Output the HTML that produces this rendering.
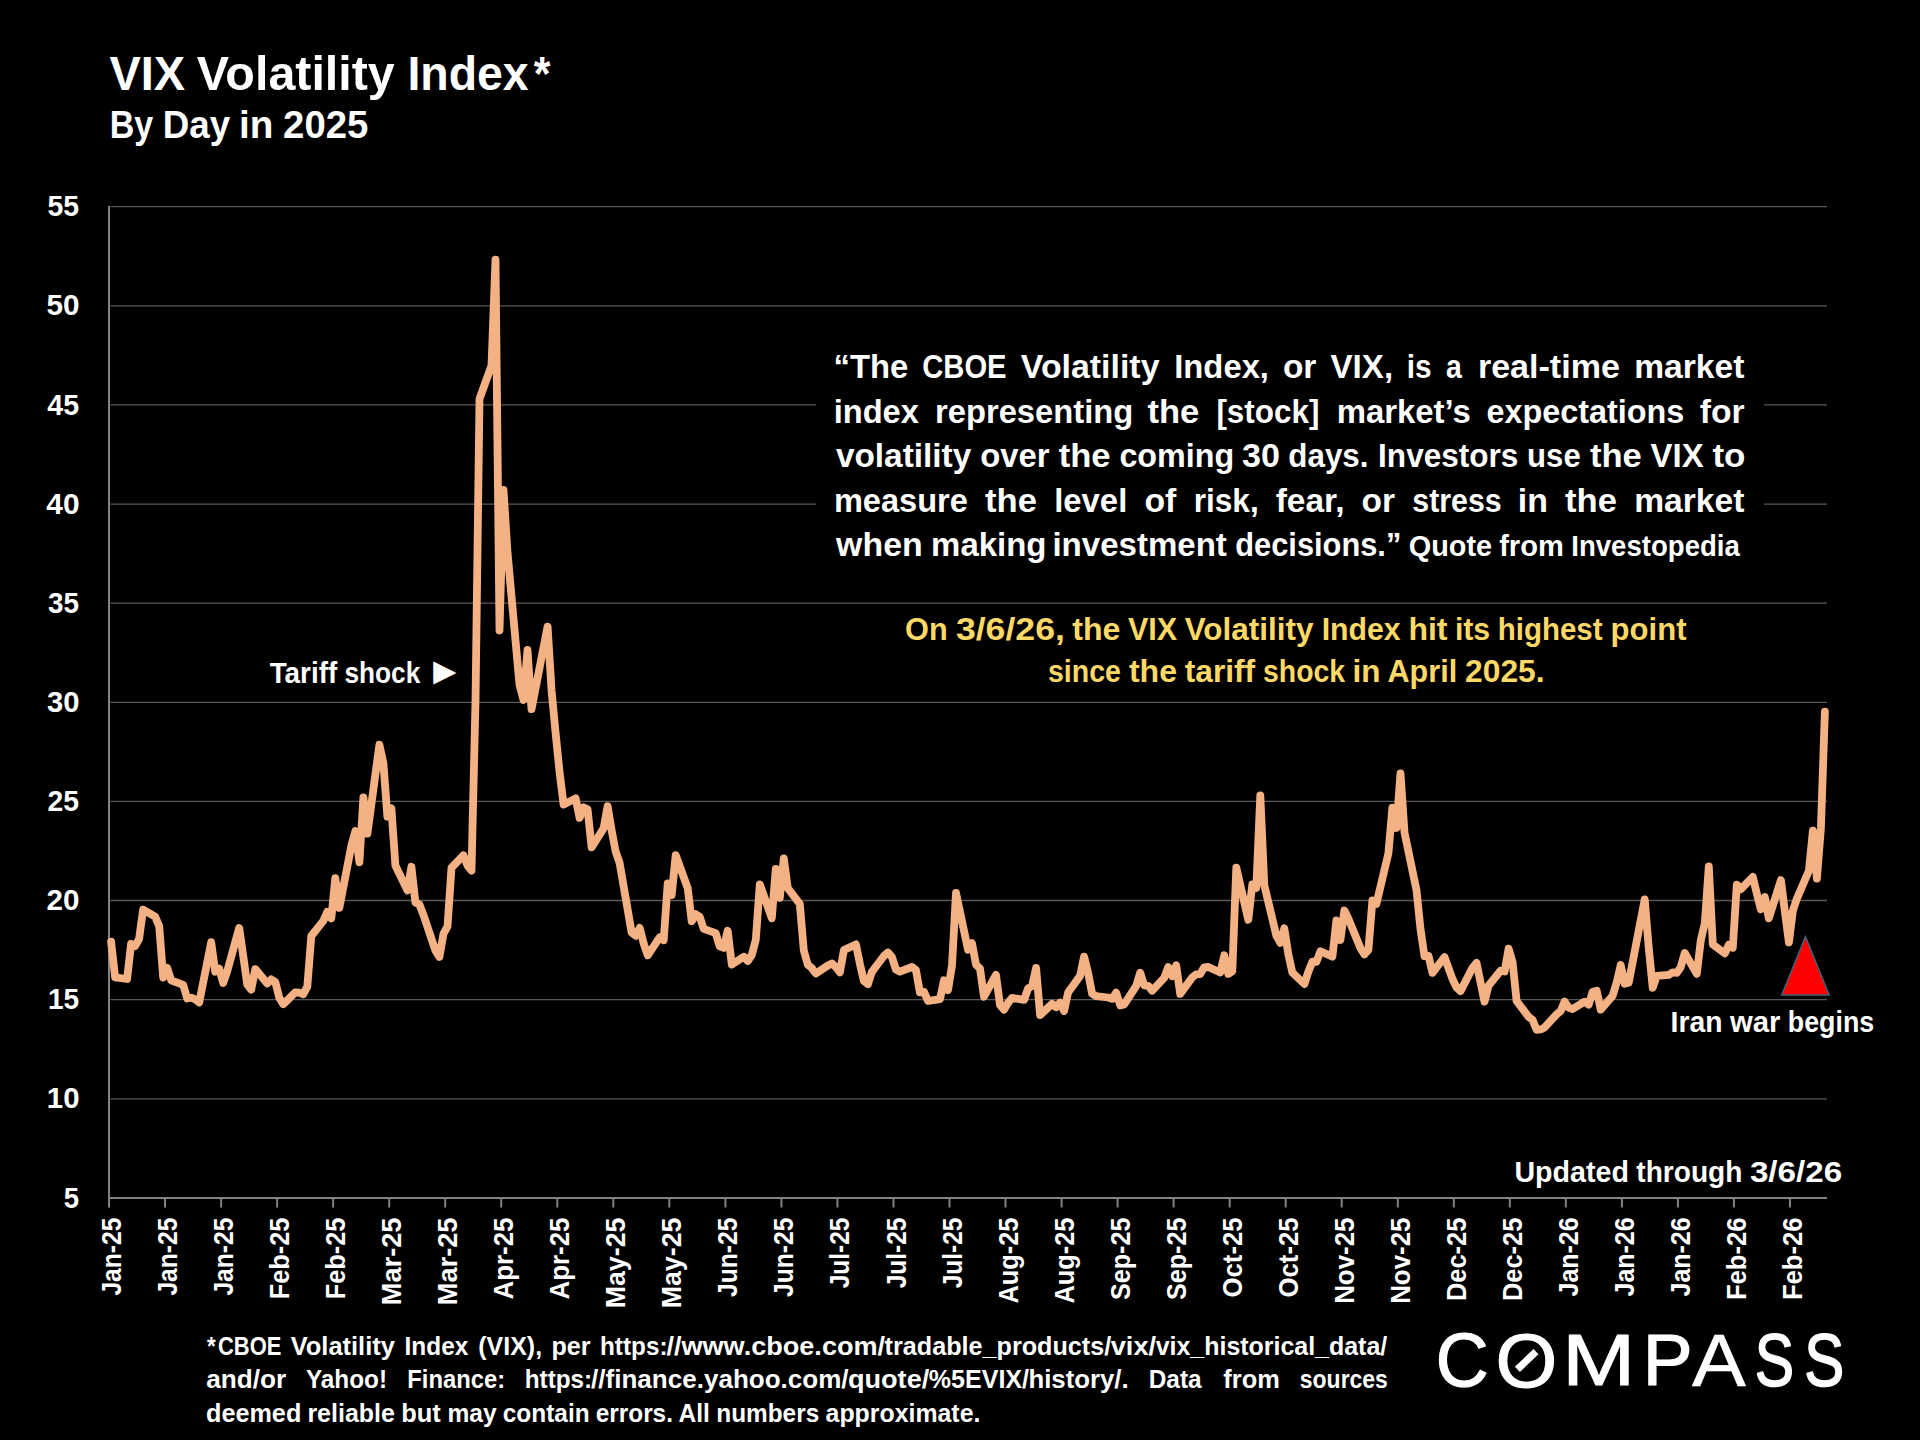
<!DOCTYPE html>
<html lang="en"><head><meta charset="utf-8"><title>VIX Volatility Index</title>
<style>
html,body{margin:0;padding:0;background:#000;}
body{width:1920px;height:1440px;overflow:hidden;position:relative;}
svg{position:absolute;left:0;top:0;display:block;}
</style></head><body>
<svg width="1920" height="1440" viewBox="0 0 1920 1440" font-family="'Liberation Sans', sans-serif" font-weight="bold" fill="#fff">
<rect width="1920" height="1440" fill="#000"/>
<line x1="110.5" y1="206.7" x2="1827.0" y2="206.7" stroke="#595959" stroke-width="1.33"/>
<line x1="110.5" y1="305.8" x2="1827.0" y2="305.8" stroke="#595959" stroke-width="1.33"/>
<line x1="110.5" y1="404.9" x2="1827.0" y2="404.9" stroke="#595959" stroke-width="1.33"/>
<line x1="110.5" y1="504.1" x2="1827.0" y2="504.1" stroke="#595959" stroke-width="1.33"/>
<line x1="110.5" y1="603.2" x2="1827.0" y2="603.2" stroke="#595959" stroke-width="1.33"/>
<line x1="110.5" y1="702.3" x2="1827.0" y2="702.3" stroke="#595959" stroke-width="1.33"/>
<line x1="110.5" y1="801.4" x2="1827.0" y2="801.4" stroke="#595959" stroke-width="1.33"/>
<line x1="110.5" y1="900.5" x2="1827.0" y2="900.5" stroke="#595959" stroke-width="1.33"/>
<line x1="110.5" y1="999.7" x2="1827.0" y2="999.7" stroke="#595959" stroke-width="1.33"/>
<line x1="110.5" y1="1098.8" x2="1827.0" y2="1098.8" stroke="#595959" stroke-width="1.33"/>
<rect x="816" y="309" width="948" height="292" fill="#000"/>
<line x1="109" y1="205.9" x2="109" y2="1207.5" stroke="#828282" stroke-width="2"/>
<line x1="108" y1="1198.0" x2="1827.0" y2="1198.0" stroke="#828282" stroke-width="2"/>
<text transform="translate(121.0,1218.3) rotate(-90)" x="-77.3" font-size="27.13" textLength="78.0" lengthAdjust="spacingAndGlyphs">Jan-25</text>
<line x1="165.0" y1="1198.0" x2="165.0" y2="1207.5" stroke="#828282" stroke-width="2"/>
<text transform="translate(177.0,1218.3) rotate(-90)" x="-77.3" font-size="27.13" textLength="78.0" lengthAdjust="spacingAndGlyphs">Jan-25</text>
<line x1="221.1" y1="1198.0" x2="221.1" y2="1207.5" stroke="#828282" stroke-width="2"/>
<text transform="translate(233.1,1218.3) rotate(-90)" x="-77.3" font-size="27.13" textLength="78.0" lengthAdjust="spacingAndGlyphs">Jan-25</text>
<line x1="277.1" y1="1198.0" x2="277.1" y2="1207.5" stroke="#828282" stroke-width="2"/>
<text transform="translate(289.1,1218.3) rotate(-90)" x="-80.9" font-size="27.13" textLength="81.6" lengthAdjust="spacingAndGlyphs">Feb-25</text>
<line x1="333.1" y1="1198.0" x2="333.1" y2="1207.5" stroke="#828282" stroke-width="2"/>
<text transform="translate(345.1,1218.3) rotate(-90)" x="-80.9" font-size="27.13" textLength="81.6" lengthAdjust="spacingAndGlyphs">Feb-25</text>
<line x1="389.2" y1="1198.0" x2="389.2" y2="1207.5" stroke="#828282" stroke-width="2"/>
<text transform="translate(401.2,1218.3) rotate(-90)" x="-87.0" font-size="27.13" textLength="87.8" lengthAdjust="spacingAndGlyphs">Mar-25</text>
<line x1="445.2" y1="1198.0" x2="445.2" y2="1207.5" stroke="#828282" stroke-width="2"/>
<text transform="translate(457.2,1218.3) rotate(-90)" x="-87.0" font-size="27.13" textLength="87.8" lengthAdjust="spacingAndGlyphs">Mar-25</text>
<line x1="501.2" y1="1198.0" x2="501.2" y2="1207.5" stroke="#828282" stroke-width="2"/>
<text transform="translate(513.2,1218.3) rotate(-90)" x="-81.2" font-size="27.13" textLength="81.9" lengthAdjust="spacingAndGlyphs">Apr-25</text>
<line x1="557.3" y1="1198.0" x2="557.3" y2="1207.5" stroke="#828282" stroke-width="2"/>
<text transform="translate(569.3,1218.3) rotate(-90)" x="-81.2" font-size="27.13" textLength="81.9" lengthAdjust="spacingAndGlyphs">Apr-25</text>
<line x1="613.3" y1="1198.0" x2="613.3" y2="1207.5" stroke="#828282" stroke-width="2"/>
<text transform="translate(625.3,1218.3) rotate(-90)" x="-90.0" font-size="27.13" textLength="90.7" lengthAdjust="spacingAndGlyphs">May-25</text>
<line x1="669.3" y1="1198.0" x2="669.3" y2="1207.5" stroke="#828282" stroke-width="2"/>
<text transform="translate(681.3,1218.3) rotate(-90)" x="-90.0" font-size="27.13" textLength="90.7" lengthAdjust="spacingAndGlyphs">May-25</text>
<line x1="725.4" y1="1198.0" x2="725.4" y2="1207.5" stroke="#828282" stroke-width="2"/>
<text transform="translate(737.4,1218.3) rotate(-90)" x="-78.6" font-size="27.13" textLength="79.3" lengthAdjust="spacingAndGlyphs">Jun-25</text>
<line x1="781.4" y1="1198.0" x2="781.4" y2="1207.5" stroke="#828282" stroke-width="2"/>
<text transform="translate(793.4,1218.3) rotate(-90)" x="-78.6" font-size="27.13" textLength="79.3" lengthAdjust="spacingAndGlyphs">Jun-25</text>
<line x1="837.4" y1="1198.0" x2="837.4" y2="1207.5" stroke="#828282" stroke-width="2"/>
<text transform="translate(849.4,1218.3) rotate(-90)" x="-70.0" font-size="27.13" textLength="70.7" lengthAdjust="spacingAndGlyphs">Jul-25</text>
<line x1="893.5" y1="1198.0" x2="893.5" y2="1207.5" stroke="#828282" stroke-width="2"/>
<text transform="translate(905.5,1218.3) rotate(-90)" x="-70.0" font-size="27.13" textLength="70.7" lengthAdjust="spacingAndGlyphs">Jul-25</text>
<line x1="949.5" y1="1198.0" x2="949.5" y2="1207.5" stroke="#828282" stroke-width="2"/>
<text transform="translate(961.5,1218.3) rotate(-90)" x="-70.0" font-size="27.13" textLength="70.7" lengthAdjust="spacingAndGlyphs">Jul-25</text>
<line x1="1005.5" y1="1198.0" x2="1005.5" y2="1207.5" stroke="#828282" stroke-width="2"/>
<text transform="translate(1017.5,1218.3) rotate(-90)" x="-85.2" font-size="27.13" textLength="85.9" lengthAdjust="spacingAndGlyphs">Aug-25</text>
<line x1="1061.6" y1="1198.0" x2="1061.6" y2="1207.5" stroke="#828282" stroke-width="2"/>
<text transform="translate(1073.6,1218.3) rotate(-90)" x="-85.2" font-size="27.13" textLength="85.9" lengthAdjust="spacingAndGlyphs">Aug-25</text>
<line x1="1117.6" y1="1198.0" x2="1117.6" y2="1207.5" stroke="#828282" stroke-width="2"/>
<text transform="translate(1129.6,1218.3) rotate(-90)" x="-81.8" font-size="27.13" textLength="82.5" lengthAdjust="spacingAndGlyphs">Sep-25</text>
<line x1="1173.6" y1="1198.0" x2="1173.6" y2="1207.5" stroke="#828282" stroke-width="2"/>
<text transform="translate(1185.6,1218.3) rotate(-90)" x="-81.8" font-size="27.13" textLength="82.5" lengthAdjust="spacingAndGlyphs">Sep-25</text>
<line x1="1229.7" y1="1198.0" x2="1229.7" y2="1207.5" stroke="#828282" stroke-width="2"/>
<text transform="translate(1241.7,1218.3) rotate(-90)" x="-79.1" font-size="27.13" textLength="79.9" lengthAdjust="spacingAndGlyphs">Oct-25</text>
<line x1="1285.7" y1="1198.0" x2="1285.7" y2="1207.5" stroke="#828282" stroke-width="2"/>
<text transform="translate(1297.7,1218.3) rotate(-90)" x="-79.1" font-size="27.13" textLength="79.9" lengthAdjust="spacingAndGlyphs">Oct-25</text>
<line x1="1341.7" y1="1198.0" x2="1341.7" y2="1207.5" stroke="#828282" stroke-width="2"/>
<text transform="translate(1353.7,1218.3) rotate(-90)" x="-85.5" font-size="27.13" textLength="86.2" lengthAdjust="spacingAndGlyphs">Nov-25</text>
<line x1="1397.8" y1="1198.0" x2="1397.8" y2="1207.5" stroke="#828282" stroke-width="2"/>
<text transform="translate(1409.8,1218.3) rotate(-90)" x="-85.5" font-size="27.13" textLength="86.2" lengthAdjust="spacingAndGlyphs">Nov-25</text>
<line x1="1453.8" y1="1198.0" x2="1453.8" y2="1207.5" stroke="#828282" stroke-width="2"/>
<text transform="translate(1465.8,1218.3) rotate(-90)" x="-82.8" font-size="27.13" textLength="83.5" lengthAdjust="spacingAndGlyphs">Dec-25</text>
<line x1="1509.8" y1="1198.0" x2="1509.8" y2="1207.5" stroke="#828282" stroke-width="2"/>
<text transform="translate(1521.8,1218.3) rotate(-90)" x="-82.8" font-size="27.13" textLength="83.5" lengthAdjust="spacingAndGlyphs">Dec-25</text>
<line x1="1565.8" y1="1198.0" x2="1565.8" y2="1207.5" stroke="#828282" stroke-width="2"/>
<text transform="translate(1577.8,1218.3) rotate(-90)" x="-78.2" font-size="27.13" textLength="79.1" lengthAdjust="spacingAndGlyphs">Jan-26</text>
<line x1="1621.9" y1="1198.0" x2="1621.9" y2="1207.5" stroke="#828282" stroke-width="2"/>
<text transform="translate(1633.9,1218.3) rotate(-90)" x="-78.2" font-size="27.13" textLength="79.1" lengthAdjust="spacingAndGlyphs">Jan-26</text>
<line x1="1677.9" y1="1198.0" x2="1677.9" y2="1207.5" stroke="#828282" stroke-width="2"/>
<text transform="translate(1689.9,1218.3) rotate(-90)" x="-78.2" font-size="27.13" textLength="79.1" lengthAdjust="spacingAndGlyphs">Jan-26</text>
<line x1="1733.9" y1="1198.0" x2="1733.9" y2="1207.5" stroke="#828282" stroke-width="2"/>
<text transform="translate(1745.9,1218.3) rotate(-90)" x="-81.8" font-size="27.13" textLength="82.7" lengthAdjust="spacingAndGlyphs">Feb-26</text>
<line x1="1790.0" y1="1198.0" x2="1790.0" y2="1207.5" stroke="#828282" stroke-width="2"/>
<text transform="translate(1802.0,1218.3) rotate(-90)" x="-81.8" font-size="27.13" textLength="82.7" lengthAdjust="spacingAndGlyphs">Feb-26</text>
<text y="216.3" font-size="30.08"><tspan x="47.5" textLength="31.6" lengthAdjust="spacingAndGlyphs">55</tspan></text>
<text y="315.4" font-size="30.08"><tspan x="46.5" textLength="33.0" lengthAdjust="spacingAndGlyphs">50</tspan></text>
<text y="414.5" font-size="30.08"><tspan x="47.3" textLength="31.8" lengthAdjust="spacingAndGlyphs">45</tspan></text>
<text y="513.7" font-size="30.08"><tspan x="46.3" textLength="33.2" lengthAdjust="spacingAndGlyphs">40</tspan></text>
<text y="612.8" font-size="30.08"><tspan x="48.0" textLength="31.0" lengthAdjust="spacingAndGlyphs">35</tspan></text>
<text y="711.9" font-size="30.08"><tspan x="47.0" textLength="32.5" lengthAdjust="spacingAndGlyphs">30</tspan></text>
<text y="811.0" font-size="30.08"><tspan x="47.6" textLength="31.5" lengthAdjust="spacingAndGlyphs">25</tspan></text>
<text y="910.1" font-size="30.08"><tspan x="46.6" textLength="32.9" lengthAdjust="spacingAndGlyphs">20</tspan></text>
<text y="1009.3" font-size="30.08"><tspan x="47.9" textLength="31.2" lengthAdjust="spacingAndGlyphs">15</tspan></text>
<text y="1108.4" font-size="30.08"><tspan x="46.8" textLength="32.7" lengthAdjust="spacingAndGlyphs">10</tspan></text>
<text y="1207.5" font-size="30.08"><tspan x="63.8" textLength="15.3" lengthAdjust="spacingAndGlyphs">5</tspan></text>
<polyline fill="none" stroke="#F4B183" stroke-width="7.8" stroke-linejoin="round" stroke-linecap="round" points="111.1,941.6 115.1,977.3 127.1,979.0 131.1,943.8 135.1,946.1 139.1,938.8 143.1,909.7 155.1,916.6 159.2,926.1 163.2,977.5 167.2,967.9 171.2,980.4 183.2,984.8 187.2,998.5 191.2,997.7 195.2,999.3 199.2,1002.6 211.2,942.2 215.2,971.7 219.2,968.7 223.2,983.0 227.2,971.3 239.2,927.9 243.2,955.8 247.2,984.4 251.2,989.7 255.3,969.1 267.3,983.6 271.3,979.4 275.3,982.0 279.3,997.7 283.3,1004.2 295.3,992.3 299.3,992.7 303.3,994.3 307.3,986.6 311.3,936.0 323.3,920.8 327.3,911.8 331.3,918.4 335.3,878.1 339.3,907.9 351.4,845.4 355.4,831.0 359.4,862.3 363.4,797.5 367.4,833.7 379.4,744.7 383.4,763.4 387.4,816.7 391.4,808.2 395.4,865.5 407.4,890.4 411.4,866.8 415.4,902.5 419.4,904.5 423.4,914.8 435.4,950.5 439.4,957.0 443.5,933.6 447.5,926.5 451.5,867.8 463.5,855.3 467.5,865.5 471.5,870.6 475.5,701.9 479.5,398.8 491.5,365.7 495.5,259.6 499.5,630.5 503.5,489.8 507.5,552.4 519.5,684.7 523.5,699.9 527.5,650.0 531.5,709.2 547.6,626.6 551.6,691.0 555.6,733.0 559.6,772.3 563.6,804.6 575.6,798.4 579.6,817.9 583.6,807.4 587.6,809.3 591.6,847.4 603.6,828.4 607.6,806.2 611.6,830.2 615.6,851.4 619.6,862.9 631.6,932.5 635.7,935.8 639.7,927.9 643.7,943.6 647.7,955.3 659.7,937.4 663.7,940.2 667.7,883.3 671.7,895.0 675.7,855.1 687.7,888.1 691.7,921.2 695.7,914.2 699.7,916.8 703.7,928.9 715.7,933.1 719.7,946.3 723.7,947.9 727.7,930.7 731.8,964.6 743.8,956.8 747.8,961.0 751.8,954.9 755.8,939.8 759.8,884.3 771.8,918.2 775.8,868.8 779.8,897.8 783.8,858.5 787.8,888.2 799.8,903.9 803.8,950.5 807.8,964.8 811.8,968.1 815.8,973.5 827.9,965.4 831.9,963.4 835.9,967.1 839.9,972.3 843.9,950.1 855.9,944.4 859.9,963.8 863.9,981.0 867.9,984.2 871.9,971.9 883.9,956.0 887.9,952.5 891.9,956.8 895.9,969.5 899.9,971.7 911.9,967.0 915.9,969.9 919.9,992.3 924.0,991.9 928.0,1001.0 940.0,999.1 944.0,980.2 948.0,990.1 952.0,965.6 956.0,893.0 968.0,949.7 972.0,943.2 976.0,964.6 980.0,968.5 984.0,996.7 996.0,974.9 1000.0,1005.0 1004.0,1009.8 1008.0,1003.0 1012.0,997.9 1024.1,999.9 1028.1,988.4 1032.1,986.0 1036.1,967.9 1040.1,1015.1 1052.1,1003.8 1056.1,1007.2 1060.1,1002.6 1064.1,1011.0 1068.1,992.5 1080.1,975.9 1084.1,956.6 1088.1,972.9 1092.1,993.7 1096.1,996.1 1108.1,997.5 1112.2,998.9 1116.2,992.7 1120.2,1005.4 1124.2,1004.4 1136.2,986.0 1140.2,972.7 1144.2,985.4 1148.2,985.8 1152.2,990.7 1164.2,977.9 1168.2,967.1 1172.2,976.3 1176.2,965.2 1180.2,993.9 1192.2,977.5 1196.2,974.3 1200.2,974.1 1204.2,967.3 1208.3,967.0 1220.3,972.5 1224.3,955.3 1228.3,973.9 1232.3,971.3 1236.3,867.6 1248.3,919.8 1252.3,884.5 1256.3,887.9 1260.3,795.3 1264.3,885.1 1276.3,935.6 1280.3,942.8 1284.3,928.3 1288.3,954.1 1292.3,972.5 1304.4,984.0 1308.4,971.5 1312.4,961.6 1316.4,961.8 1320.4,951.3 1332.4,956.6 1336.4,920.4 1340.4,940.0 1344.4,910.5 1348.4,918.8 1360.4,948.1 1364.4,954.5 1368.4,949.9 1372.4,900.5 1376.4,903.9 1388.4,853.4 1392.4,807.6 1396.4,828.0 1400.5,773.3 1404.5,832.5 1416.5,890.2 1420.5,929.1 1424.5,956.2 1428.5,956.0 1432.5,972.9 1444.5,957.0 1448.5,968.1 1452.5,979.0 1456.5,987.4 1460.5,991.1 1472.5,967.9 1476.5,962.8 1480.5,982.2 1484.5,1001.6 1488.5,985.8 1500.6,970.7 1504.6,971.5 1508.6,948.7 1512.6,962.4 1516.6,1001.0 1528.6,1016.9 1532.6,1019.9 1536.6,1029.8 1540.6,1029.4 1544.6,1027.4 1556.6,1014.3 1560.6,1011.2 1564.6,1001.6 1568.6,1007.6 1572.6,1009.0 1584.6,1001.6 1588.7,1004.6 1592.7,991.7 1596.7,990.7 1600.7,1009.6 1612.7,995.7 1616.7,982.4 1620.7,965.0 1624.7,983.8 1628.7,982.8 1644.7,899.4 1648.7,947.1 1652.7,987.8 1656.7,975.9 1668.7,974.9 1672.7,972.3 1676.7,972.9 1680.7,967.3 1684.8,952.9 1696.8,973.9 1700.8,940.2 1704.8,923.3 1708.8,866.4 1712.8,944.4 1724.8,953.5 1728.8,944.9 1732.8,947.7 1736.8,884.7 1740.8,889.2 1752.8,876.9 1756.8,893.6 1760.8,909.3 1764.8,897.0 1768.8,918.4 1780.9,880.1 1784.9,911.8 1788.9,942.4 1792.9,910.5 1796.9,898.6 1808.9,870.8 1812.9,830.6 1816.9,878.7 1820.9,828.0 1824.9,711.6"/>
<polygon points="1805.45,936.7 1829.2,995.0 1781.7,995.0" fill="#FE0000" stroke="#41627A" stroke-width="1.5" stroke-linejoin="miter"/>
<text y="90.0" font-size="48.00"><tspan x="109.5" textLength="75.7" lengthAdjust="spacingAndGlyphs">VIX</tspan> <tspan x="196.7" textLength="198.1" lengthAdjust="spacingAndGlyphs">Volatility</tspan> <tspan x="407.4" textLength="121.3" lengthAdjust="spacingAndGlyphs">Index</tspan><tspan x="533.7" textLength="16.7" lengthAdjust="spacingAndGlyphs">*</tspan></text>
<text y="138.0" font-size="38.40"><tspan x="109.7" textLength="43.5" lengthAdjust="spacingAndGlyphs">By</tspan> <tspan x="162.8" textLength="67.4" lengthAdjust="spacingAndGlyphs">Day</tspan> <tspan x="239.1" textLength="34.4" lengthAdjust="spacingAndGlyphs">in</tspan> <tspan x="283.1" textLength="85.3" lengthAdjust="spacingAndGlyphs">2025</tspan></text>
<text y="683.1" font-size="28.80"><tspan x="269.7" textLength="67.5" lengthAdjust="spacingAndGlyphs">Tariff</tspan> <tspan x="344.5" textLength="75.8" lengthAdjust="spacingAndGlyphs">shock</tspan> <tspan x="425.7" y="683.6" font-size="38.5">►</tspan></text>
<text y="1032.2" font-size="28.80"><tspan x="1670.6" textLength="51.9" lengthAdjust="spacingAndGlyphs">Iran</tspan> <tspan x="1729.9" textLength="50.5" lengthAdjust="spacingAndGlyphs">war</tspan> <tspan x="1787.8" textLength="86.4" lengthAdjust="spacingAndGlyphs">begins</tspan></text>
<text y="1182.1" font-size="28.80"><tspan x="1514.4" textLength="114.6" lengthAdjust="spacingAndGlyphs">Updated</tspan> <tspan x="1636.3" textLength="106.1" lengthAdjust="spacingAndGlyphs">through</tspan> <tspan x="1749.9" textLength="92.4" lengthAdjust="spacingAndGlyphs">3/6/26</tspan></text>
<text y="640.0" font-size="31.20" fill="#FFD966"><tspan x="905.1" textLength="42.6" lengthAdjust="spacingAndGlyphs">On</tspan> <tspan x="955.9" textLength="109.0" lengthAdjust="spacingAndGlyphs">3/6/26,</tspan> <tspan x="1072.2" textLength="48.2" lengthAdjust="spacingAndGlyphs">the</tspan> <tspan x="1128.0" textLength="49.2" lengthAdjust="spacingAndGlyphs">VIX</tspan> <tspan x="1184.7" textLength="128.8" lengthAdjust="spacingAndGlyphs">Volatility</tspan> <tspan x="1321.7" textLength="78.9" lengthAdjust="spacingAndGlyphs">Index</tspan> <tspan x="1408.4" textLength="39.1" lengthAdjust="spacingAndGlyphs">hit</tspan> <tspan x="1454.9" textLength="35.3" lengthAdjust="spacingAndGlyphs">its</tspan> <tspan x="1497.7" textLength="104.9" lengthAdjust="spacingAndGlyphs">highest</tspan> <tspan x="1610.6" textLength="75.9" lengthAdjust="spacingAndGlyphs">point</tspan></text>
<text y="681.5" font-size="31.20" fill="#FFD966"><tspan x="1048.0" textLength="73.0" lengthAdjust="spacingAndGlyphs">since</tspan> <tspan x="1128.9" textLength="48.2" lengthAdjust="spacingAndGlyphs">the</tspan> <tspan x="1184.8" textLength="70.3" lengthAdjust="spacingAndGlyphs">tariff</tspan> <tspan x="1263.0" textLength="82.1" lengthAdjust="spacingAndGlyphs">shock</tspan> <tspan x="1352.5" textLength="27.9" lengthAdjust="spacingAndGlyphs">in</tspan> <tspan x="1387.5" textLength="69.7" lengthAdjust="spacingAndGlyphs">April</tspan> <tspan x="1465.0" textLength="79.6" lengthAdjust="spacingAndGlyphs">2025.</tspan></text>
<text y="378.2" font-size="33.60"><tspan x="833.6" textLength="74.8" lengthAdjust="spacingAndGlyphs">“The</tspan> <tspan x="922.2" textLength="84.4" lengthAdjust="spacingAndGlyphs">CBOE</tspan> <tspan x="1020.8" textLength="138.7" lengthAdjust="spacingAndGlyphs">Volatility</tspan> <tspan x="1174.2" textLength="94.8" lengthAdjust="spacingAndGlyphs">Index,</tspan> <tspan x="1282.9" textLength="33.5" lengthAdjust="spacingAndGlyphs">or</tspan> <tspan x="1330.5" textLength="62.6" lengthAdjust="spacingAndGlyphs">VIX,</tspan> <tspan x="1406.7" textLength="24.8" lengthAdjust="spacingAndGlyphs">is</tspan> <tspan x="1446.0" textLength="15.8" lengthAdjust="spacingAndGlyphs">a</tspan> <tspan x="1477.9" textLength="142.0" lengthAdjust="spacingAndGlyphs">real-time</tspan> <tspan x="1634.2" textLength="110.2" lengthAdjust="spacingAndGlyphs">market</tspan></text>
<text y="422.7" font-size="33.60"><tspan x="833.7" textLength="85.2" lengthAdjust="spacingAndGlyphs">index</tspan> <tspan x="935.0" textLength="198.2" lengthAdjust="spacingAndGlyphs">representing</tspan> <tspan x="1147.4" textLength="51.9" lengthAdjust="spacingAndGlyphs">the</tspan> <tspan x="1216.4" textLength="103.0" lengthAdjust="spacingAndGlyphs">[stock]</tspan> <tspan x="1336.7" textLength="134.1" lengthAdjust="spacingAndGlyphs">market’s</tspan> <tspan x="1486.4" textLength="197.8" lengthAdjust="spacingAndGlyphs">expectations</tspan> <tspan x="1699.8" textLength="44.8" lengthAdjust="spacingAndGlyphs">for</tspan></text>
<text y="467.2" font-size="33.60"><tspan x="835.9" textLength="135.4" lengthAdjust="spacingAndGlyphs">volatility</tspan> <tspan x="980.2" textLength="69.4" lengthAdjust="spacingAndGlyphs">over</tspan> <tspan x="1058.7" textLength="51.9" lengthAdjust="spacingAndGlyphs">the</tspan> <tspan x="1119.4" textLength="114.8" lengthAdjust="spacingAndGlyphs">coming</tspan> <tspan x="1242.1" textLength="37.9" lengthAdjust="spacingAndGlyphs">30</tspan> <tspan x="1288.3" textLength="80.2" lengthAdjust="spacingAndGlyphs">days.</tspan> <tspan x="1378.1" textLength="140.3" lengthAdjust="spacingAndGlyphs">Investors</tspan> <tspan x="1527.1" textLength="53.6" lengthAdjust="spacingAndGlyphs">use</tspan> <tspan x="1589.9" textLength="51.9" lengthAdjust="spacingAndGlyphs">the</tspan> <tspan x="1650.6" textLength="53.0" lengthAdjust="spacingAndGlyphs">VIX</tspan> <tspan x="1712.4" textLength="33.0" lengthAdjust="spacingAndGlyphs">to</tspan></text>
<text y="511.7" font-size="33.60"><tspan x="833.9" textLength="134.0" lengthAdjust="spacingAndGlyphs">measure</tspan> <tspan x="985.0" textLength="51.9" lengthAdjust="spacingAndGlyphs">the</tspan> <tspan x="1054.2" textLength="73.1" lengthAdjust="spacingAndGlyphs">level</tspan> <tspan x="1144.4" textLength="31.9" lengthAdjust="spacingAndGlyphs">of</tspan> <tspan x="1193.7" textLength="65.0" lengthAdjust="spacingAndGlyphs">risk,</tspan> <tspan x="1275.7" textLength="68.9" lengthAdjust="spacingAndGlyphs">fear,</tspan> <tspan x="1361.6" textLength="33.5" lengthAdjust="spacingAndGlyphs">or</tspan> <tspan x="1412.3" textLength="89.3" lengthAdjust="spacingAndGlyphs">stress</tspan> <tspan x="1517.8" textLength="30.1" lengthAdjust="spacingAndGlyphs">in</tspan> <tspan x="1565.0" textLength="51.9" lengthAdjust="spacingAndGlyphs">the</tspan> <tspan x="1634.2" textLength="110.2" lengthAdjust="spacingAndGlyphs">market</tspan></text>
<text y="556.2" font-size="33.60"><tspan x="836.1" textLength="86.6" lengthAdjust="spacingAndGlyphs">when</tspan> <tspan x="931.1" textLength="115.3" lengthAdjust="spacingAndGlyphs">making</tspan> <tspan x="1052.4" textLength="174.5" lengthAdjust="spacingAndGlyphs">investment</tspan> <tspan x="1235.3" textLength="166.0" lengthAdjust="spacingAndGlyphs">decisions.”</tspan></text>
<text y="556.2" font-size="28.80"><tspan x="1408.7" textLength="83.4" lengthAdjust="spacingAndGlyphs">Quote</tspan> <tspan x="1499.2" textLength="64.6" lengthAdjust="spacingAndGlyphs">from</tspan> <tspan x="1571.3" textLength="168.5" lengthAdjust="spacingAndGlyphs">Investopedia</tspan></text>
<text y="1354.7" font-size="25.20"><tspan x="206.9" textLength="8.7" lengthAdjust="spacingAndGlyphs">*</tspan><tspan x="218.0" textLength="63.3" lengthAdjust="spacingAndGlyphs">CBOE</tspan> <tspan x="290.8" textLength="104.0" lengthAdjust="spacingAndGlyphs">Volatility</tspan> <tspan x="404.6" textLength="63.7" lengthAdjust="spacingAndGlyphs">Index</tspan> <tspan x="478.3" textLength="63.8" lengthAdjust="spacingAndGlyphs">(VIX),</tspan> <tspan x="551.5" textLength="39.0" lengthAdjust="spacingAndGlyphs">per</tspan> <tspan x="600.0" textLength="67.5" lengthAdjust="spacingAndGlyphs">https:</tspan><tspan x="666.4" textLength="218.7" lengthAdjust="spacingAndGlyphs">//www.cboe.com/</tspan><tspan x="884.6" textLength="226.6" lengthAdjust="spacingAndGlyphs">tradable_products/</tspan><tspan x="1110.7" textLength="45.5" lengthAdjust="spacingAndGlyphs">vix/</tspan><tspan x="1155.7" textLength="231.5" lengthAdjust="spacingAndGlyphs">vix_historical_data/</tspan></text>
<text y="1388.4" font-size="25.20"><tspan x="206.2" textLength="80.1" lengthAdjust="spacingAndGlyphs">and/or</tspan> <tspan x="305.9" textLength="81.2" lengthAdjust="spacingAndGlyphs">Yahoo!</tspan> <tspan x="407.3" textLength="97.8" lengthAdjust="spacingAndGlyphs">Finance:</tspan> <tspan x="524.7" textLength="67.5" lengthAdjust="spacingAndGlyphs">https:</tspan><tspan x="591.1" textLength="257.5" lengthAdjust="spacingAndGlyphs">//finance.yahoo.com/</tspan><tspan x="847.9" textLength="81.4" lengthAdjust="spacingAndGlyphs">quote/</tspan><tspan x="928.8" textLength="100.2" lengthAdjust="spacingAndGlyphs">%5EVIX/</tspan><tspan x="1028.4" textLength="100.3" lengthAdjust="spacingAndGlyphs">history/.</tspan> <tspan x="1148.7" textLength="52.9" lengthAdjust="spacingAndGlyphs">Data</tspan> <tspan x="1223.3" textLength="56.5" lengthAdjust="spacingAndGlyphs">from</tspan> <tspan x="1299.8" textLength="88.1" lengthAdjust="spacingAndGlyphs">sources</tspan></text>
<text y="1422.0" font-size="25.20"><tspan x="206.0" textLength="95.3" lengthAdjust="spacingAndGlyphs">deemed</tspan> <tspan x="307.4" textLength="87.5" lengthAdjust="spacingAndGlyphs">reliable</tspan> <tspan x="401.2" textLength="39.6" lengthAdjust="spacingAndGlyphs">but</tspan> <tspan x="447.4" textLength="49.2" lengthAdjust="spacingAndGlyphs">may</tspan> <tspan x="502.8" textLength="86.8" lengthAdjust="spacingAndGlyphs">contain</tspan> <tspan x="595.8" textLength="77.1" lengthAdjust="spacingAndGlyphs">errors.</tspan> <tspan x="678.6" textLength="31.3" lengthAdjust="spacingAndGlyphs">All</tspan> <tspan x="716.3" textLength="102.9" lengthAdjust="spacingAndGlyphs">numbers</tspan> <tspan x="825.6" textLength="154.8" lengthAdjust="spacingAndGlyphs">approximate.</tspan></text>
<text font-weight="normal" stroke-linejoin="round"><tspan x="1435.63" y="1386.36" font-size="75.28" textLength="52.85" lengthAdjust="spacingAndGlyphs" stroke="#fff" stroke-width="1.2">C</tspan><tspan x="1495.64" y="1386.56" font-size="75.71" textLength="61.76" lengthAdjust="spacingAndGlyphs" stroke="#fff" stroke-width="1.0">O</tspan><tspan x="1562.21" y="1385.40" font-size="72.82" textLength="72.97" lengthAdjust="spacingAndGlyphs" stroke="#fff" stroke-width="1.0">M</tspan><tspan x="1642.67" y="1385.30" font-size="72.53" textLength="49.88" lengthAdjust="spacingAndGlyphs" stroke="#fff" stroke-width="1.2">P</tspan><tspan x="1692.14" y="1385.60" font-size="73.84" textLength="53.82" lengthAdjust="spacingAndGlyphs" stroke="#fff" stroke-width="0.6">A</tspan><tspan x="1754.63" y="1385.98" font-size="74.01" textLength="39.28" lengthAdjust="spacingAndGlyphs" stroke="#fff" stroke-width="1.6">S</tspan><tspan x="1804.28" y="1385.98" font-size="74.01" textLength="39.97" lengthAdjust="spacingAndGlyphs" stroke="#fff" stroke-width="1.6">S</tspan></text>
<rect x="-3.6" y="-12.9" width="7.2" height="25.8" fill="#fff" transform="translate(1526.7,1360.5) rotate(46)"/>
</svg>
</body></html>
